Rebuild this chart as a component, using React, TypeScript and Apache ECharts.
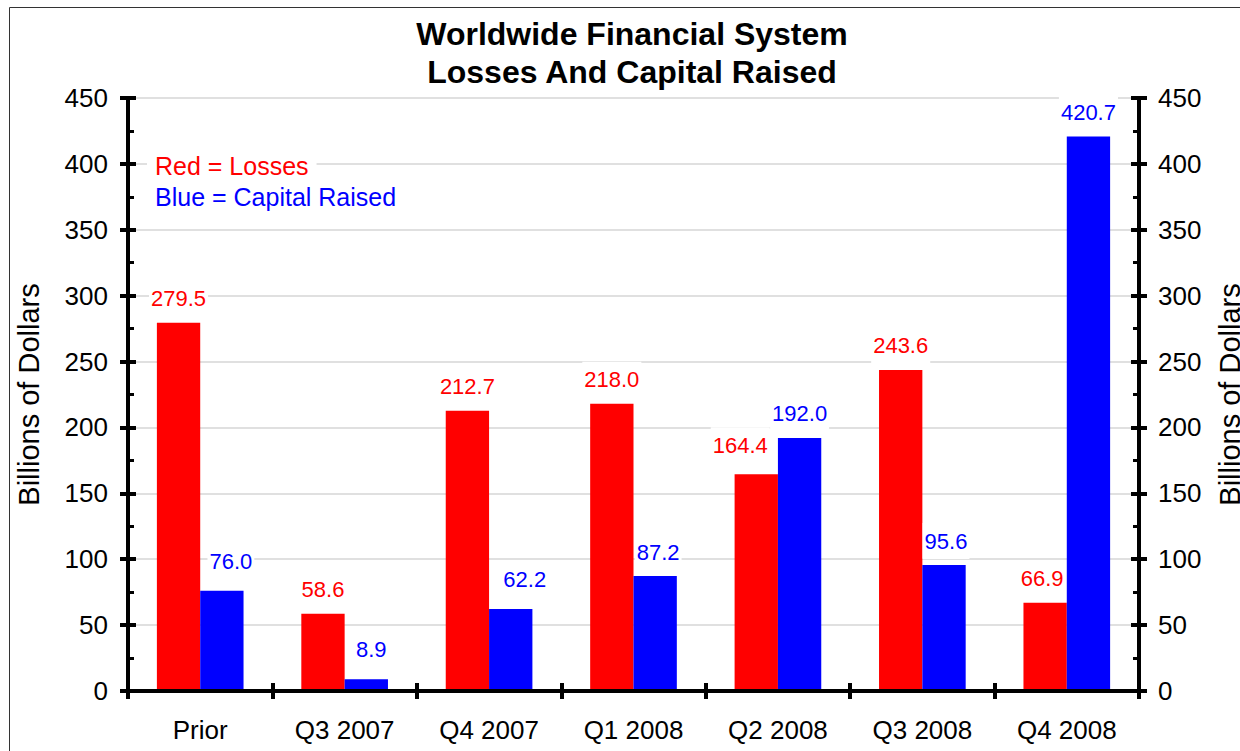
import React, { useEffect, useRef } from "react";
import * as echarts from "echarts";

const categories = ["Prior", "Q3 2007", "Q4 2007", "Q1 2008", "Q2 2008", "Q3 2008", "Q4 2008"];
const losses = [279.5, 58.6, 212.7, 218.0, 164.4, 243.6, 66.9];
const capitalRaised = [76.0, 8.9, 62.2, 87.2, 192.0, 95.6, 420.7];
const titleLines = ["Worldwide Financial System", "Losses And Capital Raised"];
const legendLines = ["Red = Losses", "Blue = Capital Raised"];
const axisName = "Billions of Dollars";
const yMin = 0;
const yMax = 450;
const yInterval = 50;

// manual label nudges (as in the original chart) so labels do not collide with neighbouring bars
const lossLabelNudge: Record<number, number[]> = { 4: [-16, -5], 6: [-3, 0] };
const capitalLabelNudge: Record<number, number[]> = {
  0: [9, -5],
  1: [5, -6],
  2: [14, -6],
  3: [3, 0],
  5: [2, 0],
};

const FONT = "'Liberation Sans', Arial, Helvetica, sans-serif";
const RED = "#ff0000";
const BLUE = "#0000ff";

export default function App() {
  const ref = useRef<HTMLDivElement>(null);

  useEffect(() => {
    if (!ref.current) return;
    const chart = echarts.init(ref.current, null, { renderer: "svg" });

    const lineStyle = { color: "#000", width: 4 };
    const baseY = {
      type: "value" as const,
      min: yMin,
      max: yMax,
      interval: yInterval,
    };

    const yAxes = [
      {
        ...baseY,
        position: "left",
        name: axisName,
        nameLocation: "middle",
        nameGap: 85,
        nameRotate: 90,
        nameTextStyle: { fontSize: 29, color: "#000", fontFamily: FONT },
        axisLine: { show: true, lineStyle },
        axisTick: { show: true, length: 8, lineStyle: { color: "#000", width: 4 } },
        axisLabel: { fontSize: 26, color: "#000", fontFamily: FONT, margin: 20 },
        splitLine: { show: true, lineStyle: { color: "#d6d6d6", width: 1.5 } },
      },
      {
        ...baseY,
        position: "left",
        axisLine: { show: false },
        axisTick: { show: true, inside: true, length: 8, lineStyle: { color: "#000", width: 4 } },
        minorTick: { show: true, splitNumber: 2, length: 6, lineStyle: { color: "#000", width: 3 } },
        axisLabel: { show: false },
        splitLine: { show: false },
      },
      {
        ...baseY,
        position: "right",
        name: axisName,
        nameLocation: "middle",
        nameGap: 76,
        nameRotate: 90,
        nameTextStyle: { fontSize: 29, color: "#000", fontFamily: FONT },
        axisLine: { show: true, lineStyle },
        axisTick: { show: true, length: 8, lineStyle: { color: "#000", width: 4 } },
        axisLabel: { fontSize: 26, color: "#000", fontFamily: FONT, margin: 19 },
        splitLine: { show: false },
      },
      {
        ...baseY,
        position: "right",
        axisLine: { show: false },
        axisTick: { show: true, inside: true, length: 8, lineStyle: { color: "#000", width: 4 } },
        minorTick: { show: true, splitNumber: 2, length: 6, lineStyle: { color: "#000", width: 3 } },
        axisLabel: { show: false },
        splitLine: { show: false },
      },
    ];

    const baseX = { type: "category" as const, data: categories, boundaryGap: true };
    const xAxes = [
      {
        ...baseX,
        position: "bottom",
        z: 10,
        axisLine: { show: true, lineStyle },
        axisTick: { show: true, length: 8, lineStyle: { color: "#000", width: 4 } },
        axisLabel: { fontSize: 26, color: "#000", fontFamily: FONT, margin: 26 },
        splitLine: { show: false },
      },
      {
        ...baseX,
        position: "bottom",
        z: 10,
        axisLine: { show: false },
        axisTick: { show: true, inside: true, length: 8, lineStyle: { color: "#000", width: 4 } },
        axisLabel: { show: false },
        splitLine: { show: false },
      },
      {
        ...baseX,
        position: "top",
        axisLine: { show: true, lineStyle },
        axisTick: { show: true, length: 8, lineStyle: { color: "#000", width: 4 } },
        axisLabel: { show: false },
        splitLine: { show: false },
      },
      {
        ...baseX,
        position: "top",
        axisLine: { show: false },
        axisTick: { show: true, inside: true, length: 8, lineStyle: { color: "#000", width: 4 } },
        axisLabel: { show: false },
        splitLine: { show: false },
      },
    ];

    const labelBase = (color: string) => ({
      show: true,
      position: "top" as const,
      distance: 6,
      color,
      fontSize: 22,
      fontFamily: FONT,
      backgroundColor: "#fff",
      padding: [7, 2],
      formatter: (p: any) => Number(p.value).toFixed(1),
    });

    const withNudges = (vals: number[], nudges: Record<number, number[]>) =>
      vals.map((v, i) => (nudges[i] ? { value: v, label: { offset: nudges[i] } } : { value: v }));

    const option = {
      animation: false,
      grid: {
        left: 128,
        right: 101,
        top: 98,
        bottom: 60,
        containLabel: false,
        outerBoundsMode: "none",
      },
      xAxis: xAxes,
      yAxis: yAxes,
      series: [
        {
          name: "Losses",
          type: "bar",
          xAxisIndex: 0,
          yAxisIndex: 0,
          data: withNudges(losses, lossLabelNudge),
          itemStyle: { color: RED },
          barGap: "0%",
          barCategoryGap: "40%",
          label: labelBase(RED),
        },
        {
          name: "Capital Raised",
          type: "bar",
          xAxisIndex: 0,
          yAxisIndex: 0,
          data: withNudges(capitalRaised, capitalLabelNudge),
          itemStyle: { color: BLUE },
          barGap: "0%",
          barCategoryGap: "40%",
          label: labelBase(BLUE),
        },
      ],
      graphic: [
        {
          type: "rect",
          z: -10,
          silent: true,
          shape: { x: 9.5, y: 7.5, width: 1300, height: 800 },
          style: { fill: "none", stroke: "#333", lineWidth: 1 },
        },
        {
          type: "text",
          x: 632,
          y: 34,
          z: 20,
          style: {
            text: titleLines[0],
            fill: "#000",
            font: `bold 32px ${FONT}`,
            textAlign: "center",
            textVerticalAlign: "middle",
          },
        },
        {
          type: "text",
          x: 632,
          y: 72,
          z: 20,
          style: {
            text: titleLines[1],
            fill: "#000",
            font: `bold 32px ${FONT}`,
            textAlign: "center",
            textVerticalAlign: "middle",
          },
        },
        {
          type: "text",
          x: 147,
          y: 166,
          z: 20,
          style: {
            text: legendLines[0],
            fill: RED,
            font: `25px ${FONT}`,
            textAlign: "left",
            textVerticalAlign: "middle",
            backgroundColor: "#fff",
            padding: [2, 8],
          },
        },
        {
          type: "text",
          x: 147,
          y: 197,
          z: 20,
          style: {
            text: legendLines[1],
            fill: BLUE,
            font: `25px ${FONT}`,
            textAlign: "left",
            textVerticalAlign: "middle",
            backgroundColor: "#fff",
            padding: [2, 8],
          },
        },
      ],
    };

    chart.setOption(option as any);
    return () => chart.dispose();
  }, []);

  return (
    <div
      ref={ref}
      style={{ position: "absolute", left: 0, top: 0, width: 1240, height: 751, background: "#fff" }}
    />
  );
}
